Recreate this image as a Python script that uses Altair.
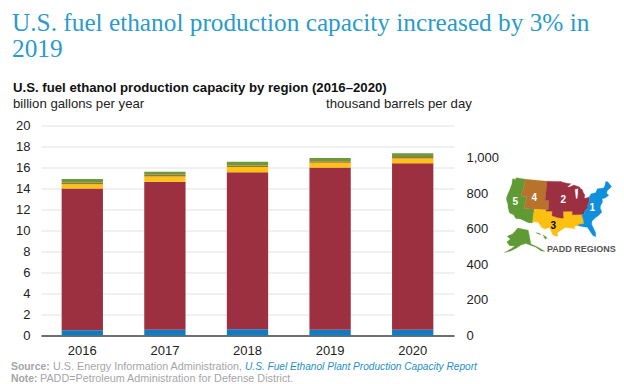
import altair as alt
import pandas as pd

years = ["2016", "2017", "2018", "2019", "2020"]
padd1 = [0.50, 0.55, 0.60, 0.55, 0.55]
padd2 = [13.50, 14.10, 14.95, 15.45, 15.85]
padd3 = [0.40, 0.50, 0.50, 0.45, 0.45]
padd4 = [0.15, 0.15, 0.15, 0.15, 0.15]
padd5 = [0.35, 0.30, 0.35, 0.30, 0.35]
series_names = ["PADD 1", "PADD 2", "PADD 3", "PADD 4", "PADD 5"]
series_colors = ["#0f7cc2", "#9c3040", "#ffc20e", "#b06c2a", "#6b9a3c"]
map_colors = ["#1090dc", "#9c3040", "#fdc010", "#b8722c", "#5f9a35"]
left_ticks = [0, 2, 4, 6, 8, 10, 12, 14, 16, 18, 20]
right_ticks = [0, 200, 400, 600, 800, 1000]
right_domain = [0, 1180]

shape_padd5 = [[-124.7,48.4],[-123,48.3],[-122.8,49],[-117,49],[-117,42],[-114,42],[-114,37],[-109,37],[-109,31.3],[-111,31.3],[-114.8,32.5],[-117.1,32.5],[-118.5,34],[-120.6,34.5],[-122,36.6],[-122.5,37.8],[-123.8,39.5],[-124.3,40.4],[-124.2,42],[-124,44],[-124,46.3]]
shape_padd4 = [[-117,49],[-104,49],[-104,41],[-102,41],[-102,37],[-109,37],[-114,37],[-114,42],[-117,42]]
shape_padd3 = [[-109,37],[-103,37],[-103,36.5],[-100,36.5],[-100,34.6],[-97,33.8],[-94.5,33.6],[-94.6,36.5],[-90,36.5],[-90.1,35],[-88.2,35],[-85.6,35],[-85,32.5],[-85,31],[-87.5,31],[-87.5,30.3],[-89.5,30.2],[-89.2,29.1],[-91.5,29.5],[-93.8,29.7],[-95,29],[-97.2,27.7],[-97.2,26],[-99.2,26.5],[-101,29.7],[-103,29],[-104.5,29.6],[-106.5,31.8],[-108.2,31.8],[-109,31.3]]
shape_padd2 = [[-104,49],[-97.2,49],[-95.2,49],[-94.6,48.7],[-92,48.3],[-89.6,48],[-92,46.7],[-90.5,46.7],[-88,47.4],[-84.8,46.5],[-84.5,45.9],[-83.4,45.2],[-83.3,44.3],[-82.5,43],[-83.1,42],[-82.5,41.6],[-80.5,42],[-80.5,40.6],[-82,38.5],[-82,37.5],[-83.7,36.6],[-84.3,35],[-85.6,35],[-88.2,35],[-90.1,35],[-90,36.5],[-94.6,36.5],[-94.5,33.6],[-97,33.8],[-100,34.6],[-100,36.5],[-103,36.5],[-103,37],[-102,37],[-102,41],[-104,41]]
shape_padd1 = [[-80.5,42],[-79,43.3],[-76.5,43.5],[-75,45],[-71.5,45],[-70.3,45.9],[-69.2,47.4],[-68,47.2],[-67,45],[-70,43.7],[-70.7,42.7],[-70,41.7],[-72,41],[-74,40.6],[-74,39.5],[-75.5,38],[-76,36.9],[-75.6,35.3],[-77.5,34],[-79,33.3],[-81,32],[-81.4,30.7],[-80.1,27],[-80.3,25.3],[-81.5,25.9],[-82.7,28],[-83.5,29.5],[-85,29.7],[-87.5,30.3],[-87.5,31],[-85,31],[-85,32.5],[-85.6,35],[-84.3,35],[-83.7,36.6],[-82,37.5],[-82,38.5],[-80.5,40.6]]
shape_lake = [[-87.5,45.5],[-85.9,45.8],[-86.4,43.5],[-86.9,41.8],[-87.5,41.8]]
shape_alaska = [[-168,65.5],[-162,67],[-156.5,71],[-141,69.6],[-141,60.2],[-135,58],[-130,55.2],[-133,55.5],[-137,58],[-146,60.5],[-151,59.5],[-155,57.5],[-160,55.5],[-165,54.3],[-160,57],[-157,58.8],[-162,59],[-166,61.5],[-163,63.5]]
shape_hawaii_a = [[-156.6,21],[-155.6,20.2],[-154.9,19.6],[-155.7,18.9],[-156.1,19.7]]
shape_hawaii_b = [[-159.8,22.2],[-158,21.7],[-157.7,21.3],[-158.2,21.3]]

# Map frames: central meridian, axis domains, bow of the conic look
main_frame = dict(lon0=-96, bow=0.0022, xd=[-207.7, -42.5], yd=[-15.5, 72.5])
alaska_frame = dict(lon0=-150, bow=0.0, xd=[-240.5, -34], yd=[-2, 140.7])
hawaii_frame = dict(lon0=-157.5, bow=0.0, xd=[-200, -34.8], yd=[-29.25, 75.75])

df = pd.DataFrame([
    {"year": y, "padd": series_names[i], "idx": i, "v": v}
    for i, vals in enumerate([padd1, padd2, padd3, padd4, padd5])
    for y, v in zip(years, vals)
])

PW, PH = 413, 210
OX, OY = 41, 125.5
SANS = "Liberation Sans"


def label(text, px, py, size, color, font=SANS, weight="normal", style="normal", align="left"):
    return alt.Chart(pd.DataFrame({"t": [text]})).mark_text(
        font=font, fontSize=size, color=color, fontWeight=weight, fontStyle=style,
        align=align, baseline="alphabetic",
    ).encode(text="t:N", x=alt.value(px - OX), y=alt.value(py - OY))


def region(ring, fill, frame):
    closed = ring + [ring[0]]
    data = pd.DataFrame({
        "lon": [p[0] for p in closed],
        "lat": [p[1] for p in closed],
        "k": list(range(len(closed))),
    })
    return alt.Chart(data).transform_calculate(
        mx=f"(datum.lon - ({frame['lon0']})) * cos(datum.lat * PI / 180)",
        my=f"datum.lat + {frame['bow']} * pow(datum.lon - ({frame['lon0']}), 2)",
    ).mark_line(fill=fill, stroke=fill, strokeWidth=0.3).encode(
        x=alt.X("mx:Q", scale=alt.Scale(domain=frame["xd"], nice=False, zero=False), axis=None),
        y=alt.Y("my:Q", scale=alt.Scale(domain=frame["yd"], nice=False, zero=False), axis=None),
        order="k:Q",
    )


bars = alt.Chart(df).mark_bar().encode(
    x=alt.X("year:N", scale=alt.Scale(paddingInner=0.5, paddingOuter=0.25), title=None,
            axis=alt.Axis(labelAngle=0, labelFont=SANS, labelFontSize=13, labelColor="#222222",
                          ticks=False, domainColor="#444444", domainWidth=1.5, labelPadding=9, grid=False)),
    y=alt.Y("v:Q", stack="zero", scale=alt.Scale(domain=[0, 20], nice=False), title=None,
            axis=alt.Axis(values=left_ticks, labelFont=SANS, labelFontSize=13, labelColor="#222222",
                          ticks=False, domain=False, labelPadding=11, grid=True,
                          gridColor="#e2e2e2", gridWidth=1.2)),
    color=alt.Color("padd:N", scale=alt.Scale(domain=series_names, range=series_colors), legend=None),
    order=alt.Order("idx:Q"),
)

right = alt.Chart(pd.DataFrame({"r": right_domain})).mark_point(opacity=0).encode(
    y=alt.Y("r:Q", scale=alt.Scale(domain=right_domain, nice=False), title=None,
            axis=alt.Axis(orient="right", values=right_ticks, format=",.0f", labelFont=SANS, labelFontSize=13,
                          labelColor="#222222", ticks=False, domain=False, labelPadding=12, grid=False)),
)

regions = [
    region(shape_padd5, map_colors[4], main_frame),
    region(shape_padd4, map_colors[3], main_frame),
    region(shape_padd3, map_colors[2], main_frame),
    region(shape_padd2, map_colors[1], main_frame),
    region(shape_padd1, map_colors[0], main_frame),
    region(shape_lake, "#ffffff", main_frame),
    region(shape_alaska, map_colors[4], alaska_frame),
    region(shape_hawaii_a, map_colors[4], hawaii_frame),
    region(shape_hawaii_b, map_colors[4], hawaii_frame),
]

texts = [
    label("U.S. fuel ethanol production capacity increased by 3% in", 12, 31, 25.3, "#2a9bcb", font="Liberation Serif"),
    label("2019", 12, 57, 25.3, "#2a9bcb", font="Liberation Serif"),
    label("U.S. fuel ethanol production capacity by region (2016–2020)", 13, 92, 13.2, "#111111", weight="bold"),
    label("billion gallons per year", 13, 108, 13.2, "#222222"),
    label("thousand barrels per day", 326, 108, 13.2, "#222222"),
    label("PADD REGIONS", 547, 252, 9, "#555555", weight="bold"),
    label("5", 512.5, 205, 10, "#ffffff", weight="bold"),
    label("4", 531.5, 201, 10, "#ffffff", weight="bold"),
    label("2", 560.5, 203, 10, "#ffffff", weight="bold"),
    label("1", 589.5, 211, 10, "#ffffff", weight="bold"),
    label("3", 550.5, 229, 10, "#000000", weight="bold"),
    label("Source:", 11, 370, 10.4, "#a6a6a6", weight="bold"),
    label("U.S. Energy Information Administration,", 53, 370, 10.8, "#a6a6a6"),
    label("U.S. Fuel Ethanol Plant Production Capacity Report", 245, 370, 10.15, "#1f8fc8", style="italic"),
    label("Note:", 11, 382, 10.4, "#a6a6a6", weight="bold"),
    label("PADD=Petroleum Administration for Defense District.", 40, 382, 10.8, "#a6a6a6"),
]

chart = alt.layer(bars, right, *regions, *texts).resolve_scale(x="independent", y="independent").properties(
    width=PW, height=PH,
    padding={"left": OX - 8, "top": OY - 8, "right": 162, "bottom": 48},
    autosize=alt.AutoSizeParams(type="none"),
    background="#ffffff",
).configure_view(stroke=None)

chart.save("out.html", embed_options={"renderer": "svg", "actions": False})
